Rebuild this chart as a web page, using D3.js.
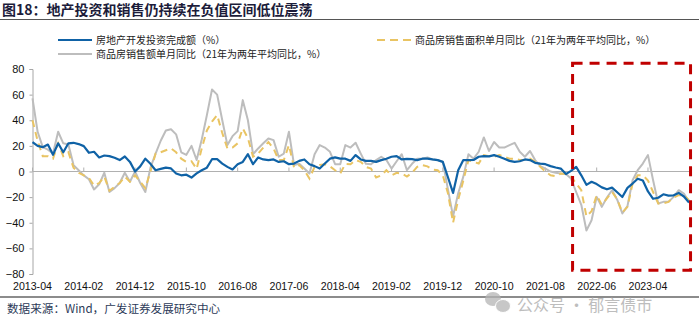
<!DOCTYPE html>
<html><head><meta charset="utf-8">
<script src="https://cdn.jsdelivr.net/npm/d3@7"></script>
<style>
html,body{margin:0;padding:0;background:#fff;}
svg{display:block;}
</style></head>
<body>
<svg id="c" width="699" height="329"></svg>
<script>
// ---- data ----
const startMonth = "2013-04";
const tickLabels = ["2013-04","2014-02","2014-12","2015-10","2016-08","2017-06","2018-04","2019-02","2019-12","2020-10","2021-08","2022-06","2023-04"];
const yTicks = [80,60,40,20,0,-20,-40,-60,-80];

const investment = [23,20,19,21,13,22,15,22,22.4,21.4,19.8,14.6,15.4,11,12.5,12,10.7,8.9,11.7,7.5,
0,4,10,6,1,2,3,2.4,-1.5,-3,-2.5,-4.7,-1.5,1,3,9.6,9.6,6.2,3.6,1.6,
5.7,7.5,13.5,5.7,11,9.4,8.9,9.4,7.5,8,5.7,6.2,8.3,9.4,5.7,4.2,2.3,6.2,10,11,
10,10,8.3,12.8,9.4,8.3,8.3,7.5,8.9,10,11.5,12,9.4,9.9,9.6,8.9,10,10,9.4,8.9,
7.5,-4.5,-16.7,1,8.9,8.9,9,11.5,12,11.8,12.8,11.5,10,8.3,7.5,8,9.4,8.9,6.8,6.2,
5.7,4.2,3.1,2.3,-2,0.5,3.6,-3,-10.4,-8,-9.8,-12.4,-13.9,-12.6,-16.2,-19.9,-12.8,-9.4,-5.6,-7,
-15.6,-21.3,-20.5,-17.8,-18.8,-18.6,-16.7,-19.5,-24.2];

const salesValue = [57,31,19,17,14,31,22,21,5,1,-3,-6,-14,-10,-1,-16,-13,-9,-1,-8,
0,-9,-16,3,14,24,32,33,29,15,13,20,9,25,44,64,60,40,20.6,27.6,
31.5,55.7,40,13.5,18,22,25.8,24.5,11.5,14,31,5,6,2.3,-1.6,13.5,20.6,18.7,15.4,5.7,
5.7,20.6,18.7,22.4,14,6,5.7,8.9,11.5,8.9,2.3,8,13.5,1,6,10,10,11,9.4,9,
7.5,-14,-35,-17,-4,13.5,10,15.4,26.6,16,23,18.7,18.7,20.6,22.4,15.4,11.5,16,8.9,4.2,
2.3,0,-1,-1.6,-2,-5.5,-16,-26,-46,-38,-19.8,-27.6,-20.3,-14.6,-22,-32.8,-27,-6.8,1,6.2,
12.8,-6.8,-25,-23.7,-23.7,-19.8,-14.6,-17.2,-23.7];

const salesArea = [40,24,12,12,10,22,12,15,3,-1,-3,-5,-11,-9,-4,-15,-12,-9,-4,-8,
-3,-8,-13,0,14,15,16.6,18,15,10,7.5,8,2,18,32,39,44,30,18,18.7,
22,33.6,26,11.5,14,18.7,23,18,8.9,9,20.6,3,5,1,-5.5,3.6,5,5.7,4,1,
-1.6,6,5.7,8.9,7.5,3.6,2.3,-4.7,-3,1,-3,-1,-1.6,-4,-1,3.6,5,4,1.6,1,
-3,-17,-40,-22,-7,8.9,7.5,6.2,12.8,12,11.5,12.8,11.5,10,10,9,8.9,10,7.5,3.6,
0,-2.9,-3.6,-1.6,-2,-4,-9.4,-14.6,-35,-31,-18.5,-26,-21,-16,-21.6,-32,-27.6,-9.4,-2.9,-3,
-7,-16,-25,-25,-23.7,-20.3,-18.5,-18.5,-22.4];

// highlight box in data units (index range, value range)
const boxIdx = [105.3, 128.3];
const boxVal = [84.5, -77];

// ---- derived categories ----
const t0 = d3.timeParse("%Y-%m")(startMonth);
const months = investment.map((d,i)=> d3.timeFormat("%Y-%m")(d3.timeMonth.offset(t0,i)));

const svg = d3.select("#c");
const W = 699, H = 329;
const x = d3.scaleLinear().domain([0, months.length-1]).range([32.5, 689]);
const y = d3.scaleLinear().domain([-80, 80]).range([274, 69]);

const cjk = "'Noto Sans CJK SC','Noto Sans',sans-serif";
const lat = "'Liberation Sans',Arial,sans-serif";

// title
svg.append("text").attr("x",2).attr("y",15)
  .attr("font-family",cjk).attr("font-weight","bold").attr("font-size",14)
  .attr("fill","#1c1c3a").text("图18：地产投资和销售仍持续在负值区间低位震荡");
svg.append("line").attr("x1",0).attr("x2",W).attr("y1",19.5).attr("y2",19.5)
  .attr("stroke","#555").attr("stroke-width",1);

// legend
const legend = [
  {name:"房地产开发投资完成额（%）", color:"#0f62a6", dash:null, x:58, y:40},
  {name:"商品房销售面积单月同比（21年为两年平均同比，%）", color:"#e9c463", dash:"8,5", x:377, y:40},
  {name:"商品房销售额单月同比（21年为两年平均同比，%）", color:"#bdbdbd", dash:null, x:58, y:54}
];
legend.forEach(l=>{
  svg.append("line").attr("x1",l.x).attr("x2",l.x+34).attr("y1",l.y).attr("y2",l.y)
    .attr("stroke",l.color).attr("stroke-width",2.2).attr("stroke-dasharray",l.dash);
  svg.append("text").attr("x",l.x+38).attr("y",l.y+3.6)
    .attr("font-family",cjk).attr("font-size",10).attr("fill","#222").text(l.name);
});

// y axis
const yAxis = d3.axisLeft(y).tickValues(yTicks).tickSize(3).tickFormat(d3.format("d"));
const gy = svg.append("g").attr("transform",`translate(${x(0)},0)`).call(yAxis);
gy.select(".domain").attr("stroke","#a6a6a6").attr("stroke-width",1);
gy.selectAll(".tick line").attr("stroke","#a6a6a6");
gy.selectAll(".tick text").attr("font-family",lat).attr("font-size",11).attr("fill","#111").attr("x",-8);

// zero line with ticks pointing up
svg.append("line").attr("x1",x(0)).attr("x2",x(months.length-1)+1)
  .attr("y1",y(0)).attr("y2",y(0)).attr("stroke","#b0b0b0").attr("stroke-width",1.2);
const tickIdx = tickLabels.map(l=>months.indexOf(l));
svg.append("g").selectAll("line").data(tickIdx).join("line")
  .attr("x1",d=>x(d)).attr("x2",d=>x(d)).attr("y1",y(0)).attr("y2",y(0)-4)
  .attr("stroke","#b0b0b0");
svg.append("g").selectAll("text").data(tickLabels).join("text")
  .attr("x",(d)=>x(months.indexOf(d))).attr("y",290).attr("text-anchor","middle")
  .attr("font-family",lat).attr("font-size",10.6).attr("fill","#111").text(d=>d);

// lines
const mk = arr => d3.line().x((d,i)=>x(i)).y(d=>y(d))(arr);
svg.append("path").attr("d",mk(salesValue)).attr("fill","none")
  .attr("stroke","#bdbdbd").attr("stroke-width",2).attr("stroke-linejoin","round");
svg.append("path").attr("d",mk(salesArea)).attr("fill","none")
  .attr("stroke","#e9c463").attr("stroke-width",2).attr("stroke-dasharray","7,5");
svg.append("path").attr("d",mk(investment)).attr("fill","none")
  .attr("stroke","#0f62a6").attr("stroke-width",2.2).attr("stroke-linejoin","round");

// highlight box
svg.append("rect").attr("x",x(boxIdx[0])).attr("y",y(boxVal[0]))
  .attr("width",x(boxIdx[1])-x(boxIdx[0])).attr("height",y(boxVal[1])-y(boxVal[0]))
  .attr("fill","none").attr("stroke","#c00000").attr("stroke-width",3).attr("stroke-dasharray","10,7");

// bottom rule + source
svg.append("line").attr("x1",0).attr("x2",W).attr("y1",297).attr("y2",297)
  .attr("stroke","#8c8c8c").attr("stroke-width",2);
svg.append("text").attr("x",7).attr("y",312.5)
  .attr("font-family",cjk).attr("font-size",11.6).attr("fill","#2c3a58")
  .text("数据来源：Wind，广发证券发展研究中心");

// watermark
const wm = svg.append("g").attr("opacity",0.75);
wm.append("ellipse").attr("cx",493).attr("cy",299).attr("rx",8).attr("ry",7).attr("fill","#b5b5b5");
wm.append("ellipse").attr("cx",503).attr("cy",306).attr("rx",7.5).attr("ry",6.5).attr("fill","#b5b5b5").attr("stroke","#fff").attr("stroke-width",1);
wm.append("text").attr("x",517).attr("y",311).attr("font-family",cjk).attr("font-size",16)
  .attr("fill","#a8a8a8").text("公众号 · 郁言债市");
</script>
</body></html>
